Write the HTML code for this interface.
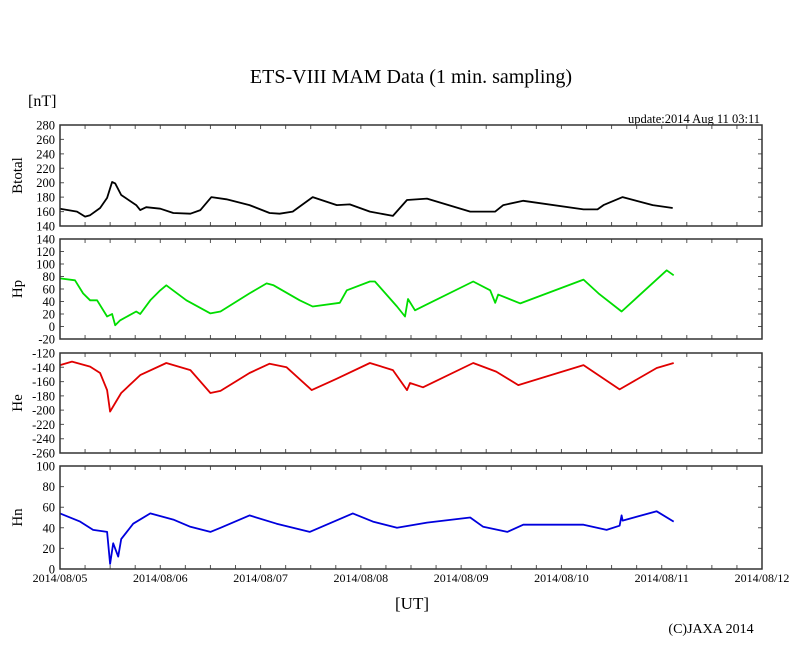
<!DOCTYPE html>
<html><head><meta charset="utf-8"><style>
body{margin:0;background:#fff}
svg{display:block;font-family:"Liberation Serif",serif}
</style></head><body>
<svg id="chart" width="810" height="655" viewBox="0 0 810 655">
<text x="411" y="83" text-anchor="middle" font-size="20">ETS-VIII MAM Data (1 min. sampling)</text>
<text x="28" y="106" font-size="16">[nT]</text>
<text x="760" y="123" text-anchor="end" font-size="12.5">update:2014 Aug 11 03:11</text>
<text x="412" y="609" text-anchor="middle" font-size="17">[UT]</text>
<text x="711" y="633" text-anchor="middle" font-size="14">(C)JAXA 2014</text>
<g id="plots"></g>
</svg>
<script>
const dayLabels=["2014/08/05","2014/08/06","2014/08/07","2014/08/08","2014/08/09","2014/08/10","2014/08/11","2014/08/12"];
const btT=[0,0.17,0.25,0.3,0.4,0.47,0.52,0.55,0.61,0.76,0.8,0.86,1.0,1.13,1.3,1.4,1.51,1.66,1.89,2.09,2.19,2.32,2.52,2.76,2.89,3.09,3.32,3.46,3.66,4.09,4.34,4.42,4.62,5.22,5.36,5.42,5.61,5.91,6.11];
const btV=[164,160,153,155,165,179,201,199,183,169,162,166,164,158,157,162,180,177,169,158,157,160,180,169,170,160,154,176,178,160,160,169,175,163,163,169,180,169,165];
const hpT=[0,0.15,0.23,0.3,0.37,0.47,0.52,0.55,0.6,0.76,0.8,0.9,1.0,1.06,1.26,1.5,1.6,1.89,2.06,2.13,2.39,2.52,2.79,2.86,3.09,3.14,3.36,3.44,3.47,3.54,3.64,4.12,4.29,4.34,4.37,4.59,5.22,5.37,5.6,6.05,6.12];
const hpV=[77,74,53,42,42,16,20,2,10,24,20,42,58,66,42,21,24,53,69,66,42,32,38,58,72,72,32,16,44,26,34,72,58,38,51,37,75,53,24,90,82];
const heT=[0,0.12,0.3,0.4,0.47,0.5,0.55,0.61,0.8,1.06,1.3,1.5,1.6,1.89,2.09,2.26,2.51,2.76,3.09,3.32,3.46,3.49,3.62,4.12,4.35,4.57,5.22,5.58,5.95,6.12];
const heV=[-137,-132,-139,-148,-172,-202,-190,-176,-151,-134,-144,-176,-173,-148,-135,-140,-172,-156,-134,-144,-172,-162,-168,-134,-146,-165,-137,-171,-141,-134];
const hnT=[0,0.2,0.33,0.47,0.5,0.53,0.58,0.61,0.73,0.9,1.13,1.3,1.5,1.6,1.89,2.16,2.49,2.92,3.12,3.36,3.66,4.09,4.22,4.46,4.62,5.22,5.45,5.58,5.6,5.61,5.95,6.12];
const hnV=[54,46,38,36,5,25,12,29,44,54,48,41,36,40,52,44,36,54,46,40,45,50,41,36,43,43,38,42,52,47,56,46];
const panels=[
 {name:"btotal",label:"Btotal",top:125,bot:226,min:140,max:280,step:20,color:"#000",t:btT,v:btV},
 {name:"hp",label:"Hp",top:239,bot:339,min:-20,max:140,step:20,color:"#00dd00",t:hpT,v:hpV},
 {name:"he",label:"He",top:353,bot:453,min:-260,max:-120,step:20,color:"#e00000",t:heT,v:heV},
 {name:"hn",label:"Hn",top:466,bot:569,min:0,max:100,step:20,color:"#0000dd",t:hnT,v:hnV}
];
const X0=60,X1=762,NS="http://www.w3.org/2000/svg";
const xs=d=>X0+(X1-X0)*d/7;
const g=document.getElementById('plots');
function mk(tag,attrs,parent){const e=document.createElementNS(NS,tag);for(const k in attrs)e.setAttribute(k,attrs[k]);(parent||g).appendChild(e);return e;}
panels.forEach((p,pi)=>{
 const ys=v=>p.bot-(v-p.min)/(p.max-p.min)*(p.bot-p.top);
 const pg=mk('g',{});
 
 
 let tk="";
 for(let h=1;h<28;h++){const x=xs(h/4);tk+=`M${x},${p.top}v4M${x},${p.bot}v-4`;}
 for(let v=p.min+p.step;v<p.max;v+=p.step){const y=ys(v);tk+=`M${X0},${y}h4M${X1},${y}h-4`;}
 mk('path',{d:tk,stroke:"#555","stroke-width":1,fill:"none"},pg);
 for(let v=p.min;v<=p.max;v+=p.step){
  const t=mk('text',{x:55,y:ys(v)+4.5,"text-anchor":"end","font-size":12.5},pg);
  
  
  t.textContent=v;
 }
 const yl=mk('text',{x:0,y:0,"text-anchor":"middle","font-size":15,transform:`translate(22,${(p.top+p.bot)/2}) rotate(-90)`},pg);
 
 
 yl.textContent=p.label;
 let d="";p.t.forEach((t,i)=>{d+=(i?"L":"M")+xs(t).toFixed(1)+","+ys(p.v[i]).toFixed(1);});
 const ln=mk('path',{d:d,stroke:p.color,"stroke-width":1.8,fill:"none","stroke-linejoin":"round"},pg);
 
 
 const fr=mk('rect',{x:X0,y:p.top,width:X1-X0,height:p.bot-p.top,fill:"none",stroke:"#333","stroke-width":1.5},pg);
 
 
});
dayLabels.forEach((l,i)=>{
 const t=mk('text',{x:xs(i),y:582,"text-anchor":"middle","font-size":12});
 
 
 t.textContent=l;
});
</script>
</body></html>
